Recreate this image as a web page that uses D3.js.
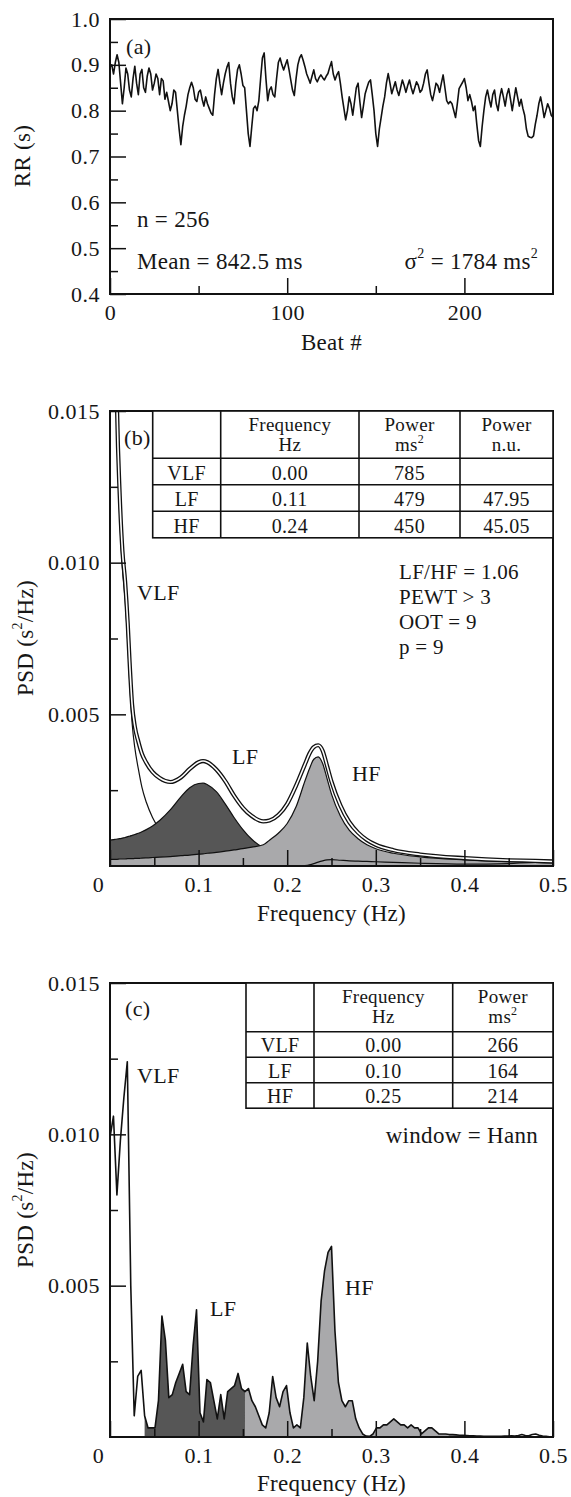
<!DOCTYPE html>
<html>
<head>
<meta charset="utf-8">
<script src="https://cdn.jsdelivr.net/npm/d3@7"></script>
<style>
body { margin: 0; background: #fff; }
text { font-family: "Liberation Serif", "Times New Roman", serif; fill: #161616; letter-spacing: 0.3px; }
</style>
</head>
<body>
<svg id="chart" width="571" height="1497"></svg>
<script>
// ---- panel (a): RR interval series (s), one value per beat
var rrValues = [
  0.895, 0.900, 0.880, 0.905, 0.922, 0.905, 0.860, 0.815, 0.850, 0.893,
  0.880, 0.845, 0.830, 0.870, 0.897, 0.860, 0.835, 0.880, 0.890, 0.850,
  0.840, 0.875, 0.893, 0.880, 0.845, 0.860, 0.880, 0.870, 0.835, 0.870,
  0.865, 0.825, 0.840, 0.820, 0.800, 0.815, 0.845, 0.840, 0.800, 0.760,
  0.726, 0.765, 0.790, 0.810, 0.835, 0.850, 0.862, 0.850, 0.825, 0.820,
  0.840, 0.845, 0.825, 0.810, 0.830, 0.815, 0.805, 0.795, 0.790, 0.835,
  0.870, 0.890, 0.860, 0.835, 0.860, 0.880, 0.895, 0.905, 0.860, 0.830,
  0.815, 0.860, 0.890, 0.900, 0.880, 0.855, 0.850, 0.800, 0.750, 0.722,
  0.765, 0.805, 0.810, 0.800, 0.822, 0.870, 0.915, 0.926, 0.870, 0.822,
  0.845, 0.852, 0.835, 0.830, 0.870, 0.905, 0.915, 0.900, 0.889, 0.900,
  0.911, 0.890, 0.867, 0.845, 0.833, 0.870, 0.900, 0.915, 0.922, 0.910,
  0.896, 0.880, 0.870, 0.860, 0.875, 0.889, 0.870, 0.863, 0.872, 0.878,
  0.872, 0.867, 0.875, 0.881, 0.895, 0.907, 0.880, 0.867, 0.878, 0.885,
  0.860, 0.830, 0.805, 0.780, 0.800, 0.830, 0.815, 0.790, 0.820, 0.850,
  0.860, 0.820, 0.785, 0.810, 0.837, 0.850, 0.862, 0.867, 0.835, 0.800,
  0.750, 0.722, 0.760, 0.785, 0.810, 0.830, 0.860, 0.881, 0.860, 0.837,
  0.850, 0.863, 0.845, 0.833, 0.850, 0.867, 0.855, 0.840, 0.855, 0.867,
  0.850, 0.837, 0.850, 0.863, 0.855, 0.840, 0.845, 0.860, 0.880, 0.889,
  0.860, 0.835, 0.822, 0.840, 0.860, 0.855, 0.840, 0.860, 0.878, 0.850,
  0.822, 0.815, 0.820, 0.815, 0.800, 0.785, 0.815, 0.848, 0.855, 0.862,
  0.870, 0.850, 0.822, 0.835, 0.820, 0.800, 0.810, 0.770, 0.735, 0.722,
  0.765, 0.800, 0.830, 0.845, 0.825, 0.808, 0.835, 0.845, 0.815, 0.800,
  0.830, 0.848, 0.830, 0.810, 0.835, 0.848, 0.825, 0.800, 0.825, 0.850,
  0.830, 0.810, 0.825, 0.805, 0.790, 0.760, 0.744, 0.742, 0.741, 0.745,
  0.770, 0.790, 0.815, 0.830, 0.810, 0.785, 0.800, 0.815, 0.805, 0.790,
  0.785, 0.800, 0.820, 0.805, 0.790, 0.810
];
var yTicksA = [0.4, 0.5, 0.6, 0.7, 0.8, 0.9, 1.0];
var yMinorA = [0.45, 0.55, 0.65, 0.75, 0.85, 0.95];
var xTicksA = [0, 100, 200];
var xMinorA = [50, 150];

// ---- panel (b): AR spectrum components (s^2/Hz)
var freqB = [0, 0.004, 0.008, 0.011, 0.014, 0.017, 0.020, 0.022, 0.025, 0.028,
  0.032, 0.036, 0.041, 0.048, 0.056, 0.068, 0.080, 0.090, 0.100, 0.105,
  0.110, 0.120, 0.130, 0.140, 0.150, 0.160, 0.173, 0.180, 0.190, 0.200,
  0.210, 0.220, 0.225, 0.230, 0.235, 0.240, 0.245, 0.250, 0.260, 0.270,
  0.280, 0.290, 0.300, 0.320, 0.350, 0.400, 0.450, 0.480, 0.500];
var totalB = [0.0500, 0.0240, 0.0150, 0.0122, 0.0104, 0.0094, 0.0080, 0.0068, 0.0053, 0.0046,
  0.0041, 0.0037, 0.0034, 0.0031, 0.0029, 0.00277, 0.00292, 0.00320, 0.00342, 0.00346,
  0.00342, 0.00318, 0.00280, 0.00232, 0.00192, 0.00165, 0.00147, 0.00150, 0.00168, 0.00205,
  0.00265, 0.00335, 0.00370, 0.00392, 0.00398, 0.00380, 0.00330, 0.00278, 0.00200, 0.00145,
  0.00110, 0.00086, 0.00070, 0.00052, 0.00038, 0.00026, 0.00019, 0.00017, 0.00015];
var vlfB = [0.0450, 0.0220, 0.0142, 0.0115, 0.0098, 0.0088, 0.0074, 0.0062, 0.0047, 0.0039,
  0.0032, 0.0026, 0.0021, 0.0016, 0.0012, 0.0007, 0.00038, 0.00024, 0.00015, 0.00012,
  0.00009, 0.00005, 0.00003, 0.00002, 0.00001, 0.00001, 0, 0, 0, 0,
  0, 0, 0, 0, 0, 0, 0, 0, 0, 0,
  0, 0, 0, 0, 0, 0, 0, 0, 0];
var lfB = [0.00085, 0.00087, 0.00089, 0.00090, 0.00092, 0.00094, 0.00097, 0.00098, 0.00101, 0.00104,
  0.00108, 0.00113, 0.00120, 0.00132, 0.00150, 0.00185, 0.00228, 0.00258, 0.00272, 0.00273,
  0.00268, 0.00245, 0.00205, 0.00160, 0.00120, 0.00088, 0.00060, 0.00050, 0.00039, 0.00031,
  0.00025, 0.00020, 0.00018, 0.00017, 0.00016, 0.00015, 0.00014, 0.00013, 0.00011, 0.00010,
  0.00009, 0.00008, 0.00007, 0.00006, 0.00004, 0.00003, 0.00002, 0.00002, 0.00002];
var hfB = [0.00022, 0.00022, 0.00022, 0.00023, 0.00023, 0.00023, 0.00024, 0.00024, 0.00024, 0.00025,
  0.00025, 0.00026, 0.00027, 0.00028, 0.00029, 0.00031, 0.00034, 0.00036, 0.00039, 0.00040,
  0.00042, 0.00045, 0.00049, 0.00053, 0.00057, 0.00062, 0.00070, 0.00085, 0.00108, 0.00140,
  0.00195, 0.00280, 0.00320, 0.00352, 0.00360, 0.00338, 0.00288, 0.00237, 0.00165, 0.00118,
  0.00090, 0.00070, 0.00057, 0.00042, 0.00030, 0.00020, 0.00014, 0.00012, 0.00011];
var extraB = [null, null, null, null, null, null, null, null, null, null,
  null, null, null, null, null, null, null, null, null, null,
  null, null, null, null, null, null, null, null, null, null,
  null, 0.00001, 0.00004, 0.00008, 0.00013, 0.00017, 0.00020, 0.00021, 0.00019, 0.00017,
  0.00016, 0.00015, 0.00014, 0.00012, 0.00009, 0.00006, 0.00008, 0.00012, 0.00010];

// ---- panel (c): Hann-windowed periodogram, bins of 1/256 cycles/beat
var binStepC = 1 / 256;
var psdC = [
  0.0099, 0.0106, 0.0080, 0.0098, 0.0112, 0.0124, 0.0050, 0.0007, 0.0020, 0.0022,
  0.0007, 0.0003, 0.0003, 0.0003, 0.0012, 0.0040, 0.0032, 0.0013, 0.0014, 0.0018,
  0.0021, 0.0024, 0.0015, 0.0014, 0.0030, 0.0042, 0.0008, 0.0005, 0.0019, 0.0018,
  0.0012, 0.0006, 0.0014, 0.0006, 0.0015, 0.0016, 0.0017, 0.0021, 0.0016, 0.0015,
  0.0016, 0.0012, 0.0010, 0.0007, 0.0004, 0.0003, 0.0008, 0.0020, 0.0013, 0.0010,
  0.0015, 0.0017, 0.0008, 0.0003, 0.0004, 0.0003, 0.0013, 0.0031, 0.0020, 0.0012,
  0.0025, 0.0045, 0.0055, 0.0061, 0.0063, 0.0035, 0.0018, 0.0012, 0.0010, 0.0012,
  0.0012, 0.0006, 0.0003, 0.0001, 0.00003, 0.00002, 0.0001, 0.0003, 0.0003, 0.0004,
  0.0004, 0.0005, 0.0006, 0.0005, 0.0004, 0.0004, 0.0003, 0.0004, 0.0003, 0.0003,
  0.0001, 0.0002, 0.0003, 0.0003, 0.0002, 0.0001, 0.0001, 0.0001, 0.00008, 0.00008,
  0.00007, 0.00006, 0.00006, 0.00005, 0.00004, 0.00004, 0.00003, 0.00003, 0.00002, 0.00002,
  0.00002, 0.00002, 0.00002, 0.00002, 0.00003, 0.00003, 0.00004, 0.00003, 0.00005, 0.00008,
  0.00005, 0.00004, 0.00008, 0.00010, 0.00006, 0.00003, 0.00002, 0.00001, 0.00001
];
var bandLF = [0.039, 0.153];
var bandHF = [0.152, 0.40];

var yTicksPSD = [0.005, 0.010, 0.015];
var yMinorPSD = [0.0025, 0.0075, 0.0125];
var xTicksF = [0, 0.1, 0.2, 0.3, 0.4, 0.5];
var xMinorF = [0.05, 0.15, 0.25, 0.35, 0.45];

// ---- tables and notes
var tableBHead = [["", ""], ["Frequency", "Hz"], ["Power", "ms", "2"], ["Power", "n.u."]];
var tableBRows = [["VLF", "0.00", "785", ""], ["LF", "0.11", "479", "47.95"], ["HF", "0.24", "450", "45.05"]];
var tableCHead = [["", ""], ["Frequency", "Hz"], ["Power", "ms", "2"]];
var tableCRows = [["VLF", "0.00", "266"], ["LF", "0.10", "164"], ["HF", "0.25", "214"]];
var notesB = ["LF/HF = 1.06", "PEWT > 3", "OOT = 9", "p = 9"];

var svg = d3.select("#chart");
var L = 110, R = 553;

function clip(id, x0, y0, x1, y1) {
  svg.append("clipPath").attr("id", id).append("rect")
    .attr("x", x0).attr("y", y0).attr("width", x1 - x0).attr("height", y1 - y0);
}

function styleAxis(g) {
  g.select(".domain").remove();
  g.selectAll(".tick line").attr("stroke", "#111").attr("stroke-width", 1.5);
  g.selectAll(".tick text").style("font-size", "22px").style("letter-spacing", "0.5px");
}

function axes(x, y, top, bottom, yt, ym, yfmt, xt, xm, xfmt, shiftZero) {
  var gy = svg.append("g").attr("transform", "translate(" + L + ",0)")
    .call(d3.axisLeft(y).tickValues(yt).tickSize(-16).tickSizeOuter(0).tickPadding(10).tickFormat(yfmt));
  styleAxis(gy);
  var gym = svg.append("g").attr("transform", "translate(" + L + ",0)")
    .call(d3.axisLeft(y).tickValues(ym).tickSize(-8).tickSizeOuter(0).tickFormat(""));
  styleAxis(gym);
  var gx = svg.append("g").attr("transform", "translate(0," + bottom + ")")
    .call(d3.axisBottom(x).tickValues(xt).tickSize(-16).tickSizeOuter(0).tickPadding(10).tickFormat(xfmt));
  styleAxis(gx);
  if (shiftZero) gx.selectAll(".tick text").filter(function(d) { return d === 0; }).attr("dx", -12);
  var gxm = svg.append("g").attr("transform", "translate(0," + bottom + ")")
    .call(d3.axisBottom(x).tickValues(xm).tickSize(-8).tickSizeOuter(0).tickFormat(""));
  styleAxis(gxm);
  svg.append("rect").attr("x", L).attr("y", top).attr("width", R - L).attr("height", bottom - top)
    .attr("fill", "none").attr("stroke", "#111").attr("stroke-width", 2);
}

function label(x, y, str, size, anchor) {
  return svg.append("text").attr("x", x).attr("y", y)
    .attr("dominant-baseline", "central")
    .attr("text-anchor", anchor || "start")
    .style("font-size", (size || 22) + "px")
    .text(str);
}

function yTitle(cx, cy, main, sup, rest) {
  var t = svg.append("text").attr("transform", "translate(" + cx + "," + cy + ") rotate(-90)")
    .attr("text-anchor", "middle").attr("dominant-baseline", "central").style("font-size", "23px");
  t.append("tspan").text(main);
  if (sup) {
    t.append("tspan").attr("dy", -8).style("font-size", "14px").text(sup);
    t.append("tspan").attr("dy", 8).text(rest);
  }
}

function table(cols, top, headH, rowH, head, rows) {
  var g = svg.append("g");
  var bottom = top + headH + rowH * rows.length;
  g.append("rect").attr("x", cols[0]).attr("y", top).attr("width", cols[cols.length - 1] - cols[0])
    .attr("height", bottom - top).attr("fill", "#fff").attr("stroke", "#111").attr("stroke-width", 1.6);
  cols.slice(1, -1).forEach(function(c) {
    g.append("line").attr("x1", c).attr("x2", c).attr("y1", top).attr("y2", bottom)
      .attr("stroke", "#111").attr("stroke-width", 1.6);
  });
  rows.forEach(function(r, i) {
    var yy = top + headH + rowH * i;
    g.append("line").attr("x1", cols[0]).attr("x2", cols[cols.length - 1]).attr("y1", yy).attr("y2", yy)
      .attr("stroke", "#111").attr("stroke-width", 1.6);
  });
  // two-line column heads, set tight as in the original
  head.forEach(function(h, j) {
    var cx = (cols[j] + cols[j + 1]) / 2;
    if (h[0]) label(cx, top + 13, h[0], 19, "middle");
    if (h[1]) {
      var t = label(cx, top + 33, "", 19, "middle");
      t.append("tspan").text(h[1]);
      if (h[2]) t.append("tspan").attr("dy", -5).style("font-size", "12px").text(h[2]);
    }
  });
  rows.forEach(function(r, i) {
    var cy = top + headH + rowH * i + rowH / 2 + 1;
    r.forEach(function(v, j) {
      if (v) label((cols[j] + cols[j + 1]) / 2, cy, v, 20, "middle");
    });
  });
}

// =============== panel (a) ===============
var xA = d3.scaleLinear().domain([0, 250]).range([L, R]);
var yA = d3.scaleLinear().domain([0.4, 1.0]).range([294, 19]);
clip("clipA", L, 19, R, 294);

svg.append("path").datum(rrValues)
  .attr("clip-path", "url(#clipA)")
  .attr("fill", "none").attr("stroke", "#111").attr("stroke-width", 1.6)
  .attr("stroke-linejoin", "round")
  .attr("d", d3.line().x(function(d, i) { return xA(i); }).y(function(d) { return yA(d); }));

axes(xA, yA, 19, 294, yTicksA, yMinorA, d3.format(".1f"), xTicksA, xMinorA, d3.format("d"), false);

label(126, 46, "(a)");
label(137, 219, "n = 256", 23);
label(137, 261, "Mean = 842.5 ms", 23);
var sig = label(538, 261, "", 23, "end");
sig.append("tspan").text("\u03c3");
sig.append("tspan").attr("dy", -8).style("font-size", "14px").text("2");
sig.append("tspan").attr("dy", 8).text(" = 1784 ms");
sig.append("tspan").attr("dy", -8).style("font-size", "14px").text("2");
yTitle(22, 156, "RR (s)");
label((L + R) / 2, 342, "Beat #", 23, "middle");

// =============== panel (b) ===============
var xF = d3.scaleLinear().domain([0, 0.5]).range([L, R]);
var yB = d3.scaleLinear().domain([0, 0.015]).range([866, 411]);
clip("clipB", L, 411, R, 866);
var gB = svg.append("g").attr("clip-path", "url(#clipB)");

function areaB(vals) {
  return d3.area().curve(d3.curveMonotoneX)
    .x(function(d, i) { return xF(freqB[i]); })
    .y0(yB(0)).y1(function(d) { return yB(d); })(vals);
}
function lineB(vals) {
  return d3.line().curve(d3.curveMonotoneX)
    .defined(function(d) { return d !== null; })
    .x(function(d, i) { return xF(freqB[i]); })
    .y(function(d) { return yB(d); })(vals);
}

// VLF line goes under the filled components, as in the original
gB.append("path").attr("d", lineB(vlfB)).attr("fill", "none").attr("stroke", "#111").attr("stroke-width", 1.2);
gB.append("path").attr("d", areaB(lfB)).attr("fill", "#565656").attr("stroke", "#111").attr("stroke-width", 1.2);
gB.append("path").attr("d", areaB(hfB)).attr("fill", "#a9a9ab").attr("stroke", "#111").attr("stroke-width", 1.2);
gB.append("path").attr("d", lineB(extraB)).attr("fill", "none").attr("stroke", "#111").attr("stroke-width", 1.2);
gB.append("path").attr("d", lineB(totalB)).attr("fill", "none").attr("stroke", "#111").attr("stroke-width", 4.2);
gB.append("path").attr("d", lineB(totalB)).attr("fill", "none").attr("stroke", "#fff").attr("stroke-width", 1.6);

var fmtF = function(d) { return d === 0 ? "0" : d3.format(".1f")(d); };
axes(xF, yB, 411, 866, yTicksPSD, yMinorPSD, d3.format(".3f"), xTicksF, xMinorF, fmtF, true);
table([152.7, 220.7, 359, 460, 553], 411, 47.3, 26.5, tableBHead, tableBRows);

label(124, 437, "(b)");
label(137, 592, "VLF");
label(232, 756, "LF");
label(352, 773, "HF");
notesB.forEach(function(s, i) { label(399, 572 + 25 * i, s, 21); });
yTitle(25, 638, "PSD (s", "2", "/Hz)");
label((L + R) / 2, 913, "Frequency (Hz)", 23, "middle");

// =============== panel (c) ===============
var yC = d3.scaleLinear().domain([0, 0.015]).range([1437, 983]);
clip("clipC", L, 983, R, 1437);
var gC = svg.append("g").attr("clip-path", "url(#clipC)");
var fC = function(i) { return i * binStepC; };

function bandArea(band) {
  return d3.area()
    .defined(function(d, i) { return fC(i) >= band[0] && fC(i) <= band[1]; })
    .x(function(d, i) { return xF(fC(i)); })
    .y0(yC(0)).y1(function(d) { return yC(d); })(psdC);
}
gC.append("path").attr("d", bandArea(bandLF)).attr("fill", "#565656");
gC.append("path").attr("d", bandArea(bandHF)).attr("fill", "#a9a9ab");
gC.append("path").datum(psdC)
  .attr("fill", "none").attr("stroke", "#111").attr("stroke-width", 1.6).attr("stroke-linejoin", "round")
  .attr("d", d3.line().x(function(d, i) { return xF(fC(i)); }).y(function(d) { return yC(d); }));

axes(xF, yC, 983, 1437, yTicksPSD, yMinorPSD, d3.format(".3f"), xTicksF, xMinorF, fmtF, true);
table([246, 314, 452.7, 553], 983, 48.7, 25.5, tableCHead, tableCRows);

label(125, 1008, "(c)");
label(137, 1075, "VLF");
label(210, 1308, "LF");
label(345, 1287, "HF");
label(538, 1135, "window = Hann", 23, "end");
yTitle(25, 1210, "PSD (s", "2", "/Hz)");
label((L + R) / 2, 1483, "Frequency (Hz)", 23, "middle");
</script>
</body>
</html>
